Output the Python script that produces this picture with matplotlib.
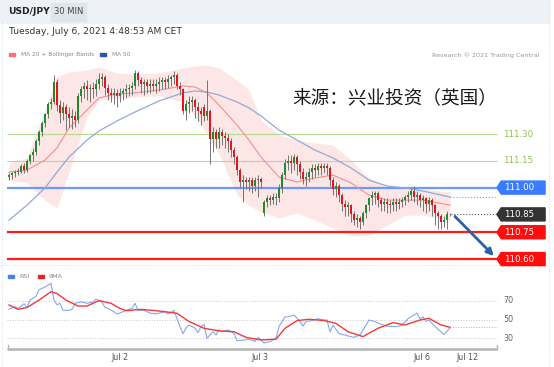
import matplotlib
matplotlib.use("Agg")
import matplotlib.pyplot as plt
from matplotlib.patches import Rectangle, Polygon

# ---- data (30 min candles, index 0 = first bar) ----
opens = [111.06, 111.07, 111.08, 111.09, 111.09, 111.12, 111.10, 111.15, 111.18, 111.20,
         111.26, 111.31, 111.36, 111.41, 111.47, 111.48, 111.59, 111.46, 111.42, 111.45,
         111.41, 111.39, 111.40, 111.38, 111.51, 111.55, 111.57, 111.55, 111.56, 111.55,
         111.58, 111.61, 111.62, 111.56, 111.53, 111.52, 111.53, 111.51, 111.53, 111.54,
         111.55, 111.56, 111.57, 111.64, 111.60, 111.58, 111.59, 111.57, 111.58, 111.57,
         111.58, 111.59, 111.60, 111.59, 111.61, 111.62, 111.63, 111.57, 111.55, 111.43,
         111.47, 111.48, 111.49, 111.45, 111.43, 111.45, 111.40, 111.43, 111.27, 111.31,
         111.27, 111.31, 111.29, 111.28, 111.26, 111.21, 111.17, 111.10, 111.03, 111.04,
         111.03, 111.04, 111.01, 111.04, 111.05, 110.86, 110.92, 110.94, 110.93, 110.95,
         110.94, 111.00, 111.07, 111.14, 111.15, 111.14, 111.17, 111.13, 111.09, 111.05,
         111.06, 111.09, 111.11, 111.10, 111.12, 111.11, 111.12, 111.11, 111.04, 110.99,
         111.01, 110.96, 110.91, 110.89, 110.90, 110.85, 110.82, 110.83, 110.81, 110.86,
         110.90, 110.94, 110.96, 110.97, 110.93, 110.91, 110.92, 110.91, 110.90, 110.92,
         110.91, 110.92, 110.93, 110.95, 110.96, 110.98, 110.95, 110.96, 110.93, 110.94,
         110.91, 110.93, 110.90, 110.86, 110.84, 110.81, 110.82, 110.85]
highs = [111.08, 111.09, 111.10, 111.11, 111.13, 111.14, 111.16, 111.19, 111.22, 111.27,
         111.32, 111.37, 111.42, 111.48, 111.50, 111.63, 111.61, 111.49, 111.48, 111.47,
         111.45, 111.44, 111.43, 111.53, 111.57, 111.59, 111.60, 111.58, 111.59, 111.61,
         111.64, 111.64, 111.63, 111.58, 111.56, 111.56, 111.55, 111.56, 111.56, 111.58,
         111.58, 111.59, 111.66, 111.65, 111.62, 111.61, 111.61, 111.61, 111.61, 111.61,
         111.62, 111.62, 111.62, 111.63, 111.63, 111.65, 111.64, 111.59, 111.56, 111.49,
         111.51, 111.51, 111.50, 111.48, 111.45, 111.47, 111.60, 111.44, 111.34, 111.33,
         111.34, 111.33, 111.31, 111.30, 111.28, 111.23, 111.18, 111.11, 111.07, 111.06,
         111.06, 111.06, 111.06, 111.07, 111.06, 110.93, 110.96, 110.96, 110.97, 110.97,
         111.02, 111.09, 111.16, 111.18, 111.18, 111.19, 111.18, 111.15, 111.11, 111.09,
         111.11, 111.13, 111.13, 111.14, 111.14, 111.14, 111.14, 111.12, 111.06, 111.03,
         111.02, 110.97, 110.93, 110.92, 110.91, 110.87, 110.85, 110.84, 110.87, 110.91,
         110.95, 110.98, 110.98, 110.98, 110.95, 110.94, 110.94, 110.93, 110.94, 110.94,
         110.94, 110.95, 110.96, 110.98, 111.00, 111.01, 110.98, 110.97, 110.96, 110.95,
         110.95, 110.94, 110.91, 110.87, 110.85, 110.84, 110.87, 110.86]
lows = [111.04, 111.05, 111.06, 111.07, 111.08, 111.08, 111.09, 111.13, 111.15, 111.18,
        111.24, 111.29, 111.34, 111.39, 111.44, 111.47, 111.43, 111.36, 111.38, 111.32,
        111.34, 111.33, 111.34, 111.36, 111.48, 111.50, 111.49, 111.48, 111.50, 111.51,
        111.55, 111.57, 111.52, 111.49, 111.48, 111.47, 111.45, 111.48, 111.49, 111.50,
        111.51, 111.52, 111.55, 111.57, 111.53, 111.52, 111.53, 111.53, 111.54, 111.53,
        111.54, 111.55, 111.55, 111.56, 111.57, 111.58, 111.55, 111.52, 111.41, 111.38,
        111.42, 111.43, 111.39, 111.37, 111.35, 111.37, 111.38, 111.13, 111.20, 111.22,
        111.22, 111.24, 111.22, 111.20, 111.17, 111.13, 111.07, 111.00, 110.92, 110.99,
        110.98, 110.97, 110.98, 110.95, 111.00, 110.84, 110.89, 110.90, 110.91, 110.90,
        110.92, 110.97, 111.05, 111.10, 111.08, 111.10, 111.07, 111.05, 111.02, 111.01,
        111.03, 111.05, 111.06, 111.07, 111.07, 111.08, 111.07, 111.01, 110.96, 110.95,
        110.92, 110.87, 110.84, 110.84, 110.81, 110.79, 110.78, 110.77, 110.79, 110.83,
        110.87, 110.90, 110.91, 110.89, 110.87, 110.87, 110.86, 110.86, 110.87, 110.87,
        110.88, 110.89, 110.90, 110.92, 110.93, 110.92, 110.90, 110.89, 110.87, 110.86,
        110.87, 110.84, 110.79, 110.77, 110.77, 110.78, 110.77, 110.84]
closes = [111.07, 111.08, 111.09, 111.09, 111.12, 111.10, 111.15, 111.18, 111.20, 111.26,
          111.31, 111.36, 111.41, 111.47, 111.48, 111.59, 111.46, 111.42, 111.45, 111.41,
          111.39, 111.40, 111.38, 111.51, 111.55, 111.57, 111.55, 111.56, 111.55, 111.58,
          111.61, 111.62, 111.56, 111.53, 111.52, 111.53, 111.51, 111.53, 111.54, 111.55,
          111.56, 111.57, 111.64, 111.60, 111.58, 111.59, 111.57, 111.58, 111.57, 111.58,
          111.59, 111.60, 111.59, 111.61, 111.62, 111.63, 111.57, 111.55, 111.43, 111.47,
          111.48, 111.49, 111.45, 111.43, 111.41, 111.40, 111.43, 111.27, 111.31, 111.27,
          111.31, 111.29, 111.28, 111.26, 111.21, 111.17, 111.10, 111.03, 111.04, 111.03,
          111.04, 111.01, 111.04, 111.05, 111.03, 110.92, 110.94, 110.93, 110.95, 110.94,
          111.00, 111.07, 111.14, 111.15, 111.14, 111.17, 111.13, 111.09, 111.05, 111.06,
          111.09, 111.11, 111.10, 111.12, 111.11, 111.12, 111.11, 111.04, 110.99, 111.01,
          110.96, 110.91, 110.89, 110.90, 110.85, 110.82, 110.83, 110.81, 110.86, 110.90,
          110.94, 110.96, 110.97, 110.93, 110.91, 110.92, 110.91, 110.90, 110.92, 110.91,
          110.92, 110.93, 110.95, 110.96, 110.98, 110.95, 110.96, 110.93, 110.94, 110.91,
          110.93, 110.90, 110.86, 110.84, 110.81, 110.82, 110.85, 110.85]

# moving averages / bollinger bands, sampled at these bar indices
ma_idx = [0, 6, 12, 16, 20, 26, 30, 36, 42, 50, 58, 62, 66, 70, 76, 80, 84, 90,
          96, 102, 108, 114, 120, 126, 132, 138, 147]
bb_upper = [111.138, 111.166, 111.434, 111.619, 111.647, 111.658, 111.675, 111.642, 111.636,
            111.642, 111.670, 111.681, 111.686, 111.670, 111.602, 111.546, 111.378, 111.294,
            111.266, 111.250, 111.238, 111.154, 111.054, 111.003, 110.992, 110.992, 110.975]
bb_lower = [111.042, 111.026, 110.930, 110.886, 111.087, 111.395, 111.490, 111.502, 111.507,
            111.513, 111.480, 111.400, 111.300, 111.190, 110.960, 110.902, 110.863, 110.830,
            110.858, 110.818, 110.774, 110.729, 110.734, 110.790, 110.846, 110.846, 110.818]
ma20 = [111.087, 111.098, 111.154, 111.222, 111.334, 111.434, 111.502, 111.524, 111.530,
        111.546, 111.569, 111.563, 111.530, 111.462, 111.350, 111.266, 111.171, 111.059,
        111.031, 111.054, 111.070, 111.026, 110.958, 110.930, 110.930, 110.930, 110.902]
ma50 = [110.818, 110.902, 110.998, 111.087, 111.171, 111.266, 111.317, 111.373, 111.423,
        111.485, 111.530, 111.541, 111.535, 111.518, 111.479, 111.446, 111.401, 111.322,
        111.266, 111.210, 111.166, 111.110, 111.042, 111.009, 110.998, 110.981, 110.947]

# RSI and its 9 period MA
rsi_idx = [0, 2, 3, 5, 6, 7, 9, 10, 12, 13, 14, 15, 16, 17, 18, 20, 21, 22, 24, 26, 28, 29,
           31, 32, 33, 35, 36, 38, 39, 41, 42, 43, 45, 47, 49, 50, 52, 53, 55, 56, 57, 58,
           59, 60, 62, 63, 64, 65, 66, 68, 69, 70, 71, 73, 75, 76, 78, 80, 82, 83, 85, 87,
           89, 90, 92, 93, 95, 97, 98, 99, 101, 103, 105, 106, 107, 108, 110, 112, 113, 115,
           117, 119, 120, 122, 124, 126, 129, 131, 133, 135, 136, 137, 138, 139, 140, 142,
           144, 145, 147]
rsi_val = [61, 64, 62, 67, 63, 71, 75, 82, 85, 87, 89, 71, 66, 67.5, 60, 60, 61, 67.5, 69,
           67.5, 69, 72, 69, 63, 62, 58.5, 56, 58.5, 60, 62, 67.5, 60, 60, 57, 56, 57, 58.5,
           56, 60, 51, 42.5, 35, 41, 44, 41, 36, 42.5, 45, 30, 37, 33.5, 39, 37, 39, 35,
           27.5, 28, 29, 26.5, 31, 25, 26.5, 30, 42.5, 53, 53, 55, 48, 43, 48, 49, 51, 49.6,
           49.6, 37, 44, 35, 33.5, 32.5, 31, 33.5, 44, 49.6, 48, 45, 43, 42.5, 44, 51, 55,
           57, 51, 53, 48, 49.6, 42.5, 37, 34, 41]
ma9_idx = [0, 3, 6, 10, 14, 16, 19, 23, 26, 30, 34, 37, 39, 44, 49, 52, 56, 60, 65, 70, 75,
           79, 84, 89, 92, 96, 100, 105, 109, 113, 118, 123, 128, 132, 137, 140, 144, 147]
ma9_val = [65.7, 61, 63, 71, 80, 78, 71, 64.6, 64.6, 70.4, 67.5, 62, 59.6, 61, 59.6, 58.5,
           56.8, 48, 40.7, 38, 37, 31, 28.2, 29, 40.7, 49, 50.4, 49, 46, 37, 31.8, 40.7,
           46.8, 44.3, 49.6, 51.4, 44.3, 41.8]

support_green = [111.30, 111.15]
pivot = 111.00
last_price = 110.85
targets = [110.75, 110.60]
rsi_levels = [70, 50, 30]
date_pos = [37, 83.7, 137.7, 153]
date_labels = ["Jul 2", "Jul 3", "Jul 6", "Jul 12"]

# ---- figure ----
W, H = 554, 367
fig = plt.figure(figsize=(W / 100, H / 100), dpi=100)
fig.patch.set_facecolor("white")


def frame(x0, y0, x1, y1):
    return [x0 / W, 1 - y1 / H, (x1 - x0) / W, (y1 - y0) / H]


# overlay in pixel coordinates for header / legends
ov = fig.add_axes([0, 0, 1, 1])
ov.set_xlim(0, W)
ov.set_ylim(H, 0)
ov.axis("off")

ov.add_patch(Rectangle((0, 0), 549, 22, color="#eef2f6", zorder=0))
ov.add_patch(Rectangle((51, 3), 35, 18, color="#dfe5ec", zorder=1))
ov.text(8, 12, "USD/JPY", fontsize=6.6, fontweight="bold", color="#222", va="center")
ov.text(68.5, 12, "30 MIN", fontsize=6.0, color="#444", va="center", ha="center")
ov.text(9, 31, "Tuesday, July 6, 2021 4:48:53 AM CET", fontsize=6.6, color="#333", va="center")

ov.add_patch(Rectangle((9, 53), 6, 3, color="#ff7070"))
ov.text(21, 54.5, "MA 20 + Bollinger Bands", fontsize=4.2, color="#888", va="center")
ov.add_patch(Rectangle((100, 53), 6, 3, color="#2a55a5"))
ov.text(112, 54.5, "MA 50", fontsize=4.2, color="#888", va="center")
ov.text(540, 55, "Research \u00a9 2021 Trading Central", fontsize=4.6, color="#999",
        va="center", ha="right")

ov.add_patch(Rectangle((8, 275), 6, 3, color="#4a7fe0"))
ov.text(19, 276.5, "RSI", fontsize=4.6, color="#888", va="center")
ov.add_patch(Rectangle((38, 275), 6, 3, color="#ee2222"))
ov.text(49, 276.5, "9MA", fontsize=4.6, color="#888", va="center")

for yy in [22.5, 265]:
    ov.plot([1, 549], [yy, yy], color="#cfdfee", lw=0.7, ls=":")
ov.plot([549, 549], [0, 367], color="#cfdfee", lw=0.7, ls=":")
ov.plot([1.5, 1.5], [22, 367], color="#cfdfee", lw=0.7, ls=":")

ov.text(292, 98, "来源：兴业投资（英国）", fontsize=13.4, color="#1a1a1a", va="center",
        family=["Noto Sans CJK SC", "DejaVu Sans"])

# ---- price panel ----
XMIN, XMAX = -0.667, 179.67
LINE_END = 162.67
ax = fig.add_axes(frame(7, 62, 548, 263))
ax.set_xlim(XMIN, XMAX)
ax.set_ylim(110.578, 111.703)
ax.axis("off")

ax.fill_between(ma_idx, bb_lower, bb_upper, color="#fcdcdc", alpha=0.7, lw=0, zorder=1)
ax.plot(ma_idx, ma20, color="#f29090", lw=0.8, zorder=2)
ax.plot(ma_idx, ma50, color="#93a9d8", lw=0.9, zorder=2)

for p in support_green:
    ax.hlines(p, XMIN, LINE_END, color="#b5d98f", lw=0.8, zorder=1)
    ax.text(164.7, p, f"{p:.2f}", color="#8bc34a", fontsize=6.2, va="center")
ax.hlines(pivot, XMIN, LINE_END, color="#6f98ff", lw=1.6, zorder=1)
for p in targets:
    ax.hlines(p, XMIN, LINE_END, color="#ff1a1a", lw=1.6, zorder=1, clip_on=False)

ax.hlines(ma50[-1], ma_idx[-1], LINE_END, color="#7a9ee8", lw=0.8, ls=":")
ax.hlines(last_price, len(closes) - 0.5, LINE_END, color="#555555", lw=0.8, ls=":")

# candles
for i in range(len(closes)):
    o, h, l, c = opens[i], highs[i], lows[i], closes[i]
    col = "#1f8a2e" if c >= o else "#e8141c"
    ax.vlines(i, l, h, color="#747474", lw=0.7, zorder=3)
    body = max(abs(c - o), 0.004)
    ax.bar(i, body, bottom=min(o, c), width=0.7, color=col, lw=0, zorder=4)

# price tags on the right
hh = 0.0365


def tag(p, color):
    pts = [(LINE_END, p), (LINE_END + 1.4, p + hh), (178.7, p + hh),
           (178.7, p - hh), (LINE_END + 1.4, p - hh)]
    ax.add_patch(Polygon(pts, closed=True, color=color, zorder=5, clip_on=False))
    ax.text(165.0, p, f"{p:.2f}", color="white", fontsize=6.2, va="center",
            zorder=6, clip_on=False)


tag(pivot, "#3a7cff")
tag(last_price, "#333333")
for p in targets:
    tag(p, "#ff0d0d")

ax.annotate("", xy=(162.3, targets[1] + 0.006), xytext=(148.0, last_price),
            arrowprops=dict(arrowstyle="-|>", color="#2b5fa8", lw=2, mutation_scale=10),
            zorder=6, annotation_clip=False)

# ---- RSI panel ----
rx = fig.add_axes(frame(7, 268, 548, 349))
rx.set_xlim(XMIN, XMAX)
rx.set_ylim(18.5, 105.4)
rx.axis("off")

for lv in rsi_levels:
    rx.hlines(lv, XMIN, LINE_END, color="#c8c8c8", lw=0.7, ls=":")
    rx.text(164.7, lv, str(lv), fontsize=5.8, color="#666", va="center")
rx.plot(rsi_idx, rsi_val, color="#86a6ee", lw=0.8)
rx.plot(ma9_idx, ma9_val, color="#f03a3a", lw=1.0)
rx.hlines(ma9_val[-1], ma9_idx[-1], LINE_END, color="#9ab4e8", lw=0.7, ls=":")

# time axis
ov.plot([7, 497], [349, 349], color="#b5b5b5", lw=1.8, solid_capstyle="butt")
ov.plot([7.5, 7.5], [345, 349], color="#b5b5b5", lw=1)
ov.plot([496.5, 496.5], [345, 349], color="#b5b5b5", lw=1)
for pos, lab in zip(date_pos, date_labels):
    px = 9 + 3 * pos
    ov.text(px, 358, lab, fontsize=5.8, color="#555", ha="center", va="center")

fig.savefig("out.png", dpi=100)
